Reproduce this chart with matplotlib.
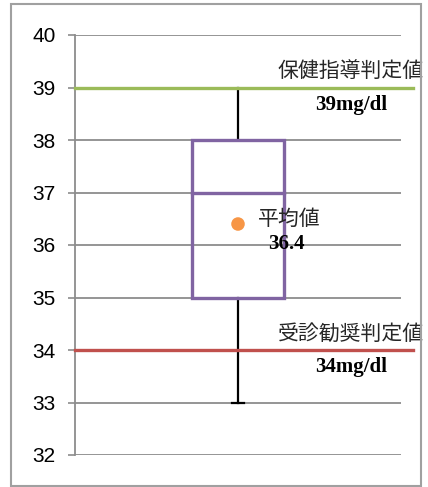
import matplotlib
matplotlib.use('Agg')
import matplotlib.pyplot as plt
from matplotlib.patches import Rectangle

# box plot summary (mg/dl)
whisker_low = 33
q1 = 35
median = 37
q3 = 38
whisker_high = 39
mean_value = 36.4

# reference thresholds
guidance_value = 39
guidance_label = "保健指導判定値"
referral_value = 34
referral_label = "受診勧奨判定値"
mean_label = "平均値"

y_ticks = [32, 33, 34, 35, 36, 37, 38, 39, 40]

W, H = 428, 487
fig = plt.figure(figsize=(W / 100, H / 100), dpi=100)

# outer frame around the chart area
fig.patches.append(Rectangle((11 / W, 1 - 486 / H), 410 / W, 482 / H,
                             transform=fig.transFigure, fill=False,
                             edgecolor='#a0a0a0', linewidth=1.5))

ax = fig.add_axes([75 / W, 1 - 455 / H, 326 / W, 420 / H])
ax.set_xlim(0, 1)
ax.set_ylim(32, 40)
ax.set_yticks(y_ticks)
ax.set_xticks([])
ax.tick_params(axis='y', length=5, width=1.2, color='#8c8c8c', pad=9,
               labelsize=15)
for lbl in ax.get_yticklabels():
    lbl.set_family('Liberation Sans')
ax.yaxis.grid(True, color='#8c8c8c', linewidth=1.3)
ax.set_axisbelow(True)
for side in ['top', 'right', 'bottom']:
    ax.spines[side].set_visible(False)
ax.spines['left'].set_color('#8c8c8c')
ax.spines['left'].set_linewidth(1.3)

cx = 0.5
bw = 0.285
cap = 0.037
purple = '#8064a2'

# whiskers
ax.plot([cx, cx], [q3, whisker_high], color='black', lw=1.6, zorder=3)
ax.plot([cx, cx], [whisker_low, q1], color='black', lw=1.6, zorder=3)
ax.plot([cx - cap / 2, cx + cap / 2], [whisker_low, whisker_low],
        color='black', lw=1.6, zorder=3)

# box and median
ax.add_patch(Rectangle((cx - bw / 2, q1), bw, q3 - q1, fill=False,
                       edgecolor=purple, lw=2.4, zorder=4))
ax.plot([cx - bw / 2, cx + bw / 2], [median, median], color=purple, lw=2.4,
        zorder=4)

# threshold lines run a bit past the plot area
x_ext = 1.037
ax.plot([0, x_ext], [guidance_value, guidance_value], color='#9bbb59', lw=2.4,
        clip_on=False, zorder=5)
ax.plot([0, x_ext], [referral_value, referral_value], color='#c0504d', lw=2.4,
        clip_on=False, zorder=5)

# mean marker
ax.scatter([cx], [mean_value], s=95, color='#f79646', zorder=6,
           edgecolors='none')

jp = ['Noto Sans CJK JP', 'DejaVu Sans']
num_font = dict(family='Liberation Serif', weight='bold', fontsize=15)

ax.text(1.07, guidance_value + 0.1, guidance_label, family=jp, fontsize=15,
        ha='right', va='bottom', color='#262626', clip_on=False, zorder=7)
ax.text(0.847, guidance_value - 0.33, f"{guidance_value}mg/dl", ha='center',
        va='center', clip_on=False, zorder=7, **num_font)

ax.text(1.07, referral_value + 0.1, referral_label, family=jp, fontsize=15,
        ha='right', va='bottom', color='#262626', clip_on=False, zorder=7)
ax.text(0.847, referral_value - 0.33, f"{referral_value}mg/dl", ha='center',
        va='center', clip_on=False, zorder=7, **num_font)

ax.text(0.562, mean_value + 0.1, mean_label, family=jp, fontsize=15,
        ha='left', va='center', color='#262626', zorder=7)
ax.text(0.592, mean_value - 0.39, f"{mean_value}", ha='left', va='center',
        zorder=7, **num_font)

fig.savefig('out.png', dpi=100)
